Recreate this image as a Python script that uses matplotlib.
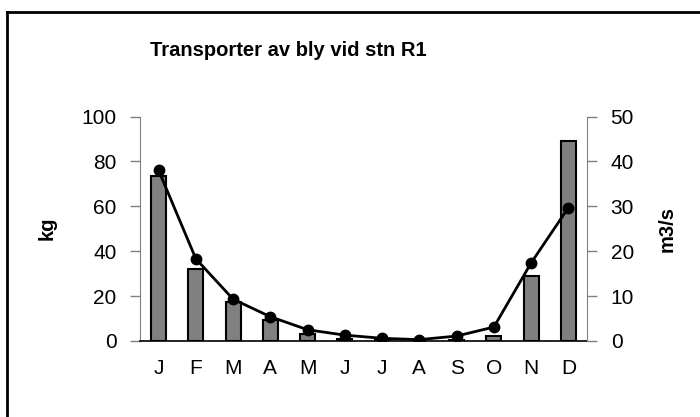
import matplotlib.pyplot as plt
from matplotlib.lines import Line2D

plt.rcParams["font.family"] = ["Liberation Sans", "DejaVu Sans"]

months = ["J", "F", "M", "A", "M", "J", "J", "A", "S", "O", "N", "D"]
lead_kg = [73.5, 32.0, 17.5, 9.2, 3.0, 0.7, 0.3, 0.2, 0.5, 2.3, 29.0, 89.0]
flow_m3s = [38.0, 18.3, 9.3, 5.4, 2.5, 1.3, 0.6, 0.3, 1.1, 3.1, 17.4, 29.7]

fig = plt.figure(figsize=(7.0, 4.17), dpi=100)
ax = fig.add_axes([0.2, 0.1823, 0.6386, 0.5383])
ax2 = ax.twinx()

x = list(range(len(months)))
ax.bar(x, lead_kg, width=0.4, color="#808080", edgecolor="black", linewidth=1.5, zorder=2)
ax2.plot(x, flow_m3s, color="black", linewidth=2, marker="o", markersize=7.5, zorder=3)

ax.set_xlim(-0.5, 11.5)
ax.set_ylim(0, 100)
ax2.set_ylim(0, 50)
ax.set_yticks([0, 20, 40, 60, 80, 100])
ax2.set_yticks([0, 10, 20, 30, 40, 50])
ax.set_xticks(x)
ax.set_xticklabels(months)

for a in (ax, ax2):
    a.spines["top"].set_visible(False)
    a.tick_params(axis="y", direction="out", length=7, width=1, color="#808080",
                  labelsize=15, pad=10)
ax.spines["left"].set_color("#808080")
ax2.spines["right"].set_color("#808080")
ax.spines["right"].set_visible(False)
ax2.spines["left"].set_visible(False)
ax.spines["bottom"].set_color("black")
ax.spines["bottom"].set_linewidth(1.2)
ax2.spines["bottom"].set_visible(False)
ax.tick_params(axis="x", length=0, labelsize=15, pad=13)

ax.set_ylabel("kg", fontsize=14.5, fontweight="bold", labelpad=18)
ax2.set_ylabel("m3/s", fontsize=14.5, fontweight="bold", labelpad=17)

fig.text(0.412, 0.88, "Transporter av bly vid stn R1", fontsize=14.5,
         fontweight="bold", ha="center", va="center")

# chart area border (top and left edges visible)
fig.add_artist(Line2D([0.01, 0.01], [0.0, 0.971], color="black", linewidth=2,
                      transform=fig.transFigure))
fig.add_artist(Line2D([0.01, 1.0], [0.971, 0.971], color="black", linewidth=2,
                      transform=fig.transFigure))

plt.savefig("out.png", dpi=100)
